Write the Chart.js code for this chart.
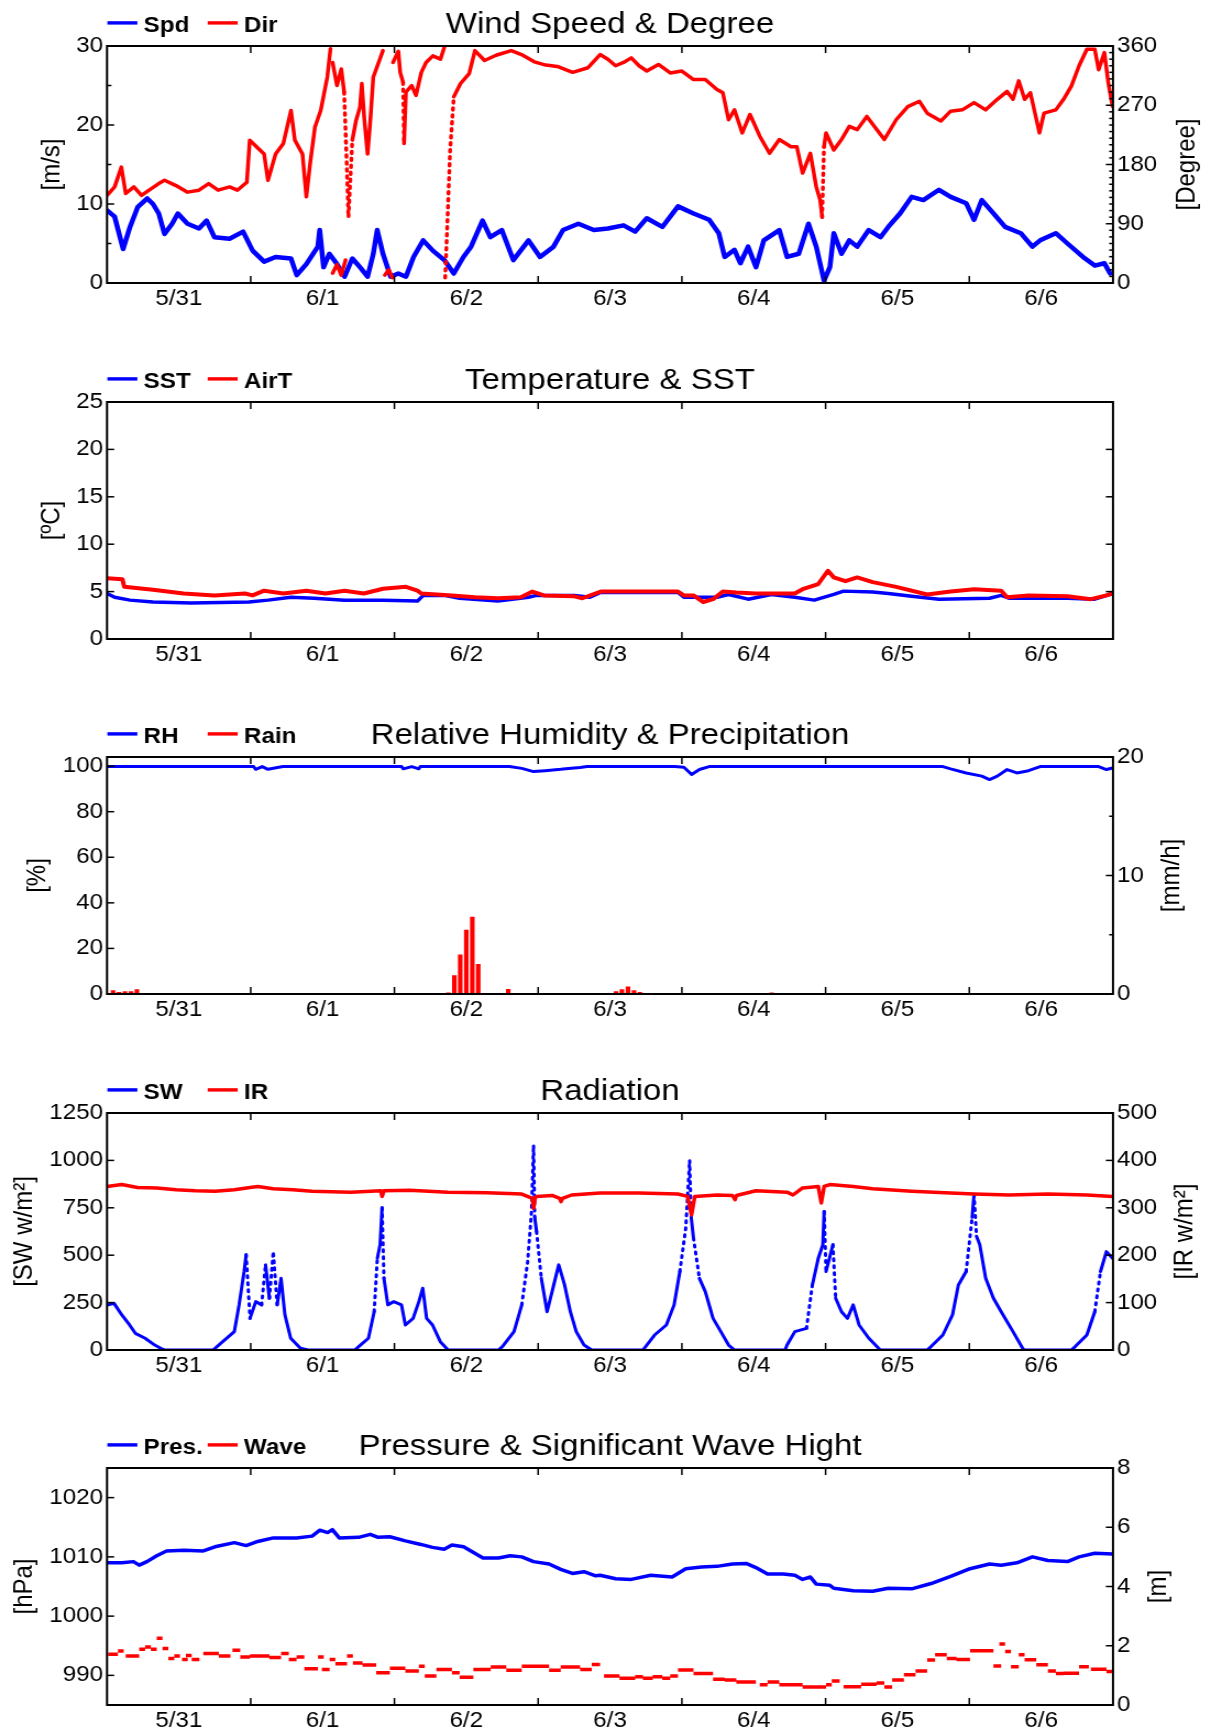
<!DOCTYPE html>
<html lang="en">
<head>
<meta charset="UTF-8">
<title>Buoy Observations 5/31 - 6/6</title>
<script src="https://cdn.jsdelivr.net/npm/chart.js"></script>
<style>
  body { margin: 0; background: #fff; width: 1211px; height: 1731px; position: relative; overflow: hidden; }
  .panel { position: absolute; left: 0; width: 1211px; }
  .panel canvas { display: block; width: 1211px; }
</style>
</head>
<body>
<div class="panel" style="top:0"><canvas id="wind" width="1101" height="356" style="height:356px"></canvas></div>
<div class="panel" style="top:356px"><canvas id="temp" width="1101" height="355" style="height:355px"></canvas></div>
<div class="panel" style="top:711px"><canvas id="humid" width="1101" height="356" style="height:356px"></canvas></div>
<div class="panel" style="top:1067px"><canvas id="rad" width="1101" height="355" style="height:355px"></canvas></div>
<div class="panel" style="top:1422px"><canvas id="pres" width="1101" height="309" style="height:309px"></canvas></div>

<script>
// x values are days counted from 5/31 00:00
const dayLabels = ['5/31', '6/1', '6/2', '6/3', '6/4', '6/5', '6/6'];
const dayTicks = [0, 1, 2, 3, 4, 5, 6];
const noonMarks = [0.5, 1.5, 2.5, 3.5, 4.5, 5.5];

// wind speed [m/s]
const spd = [[-0.5,9.2],[-0.447,8.4],[-0.388,4.3],[-0.34,7.1],[-0.287,9.6],[-0.22,10.7],[-0.18,10],[-0.14,8.8],[-0.1,6.2],[-0.047,7.5],[-0.007,8.8],[0.06,7.5],[0.14,6.9],[0.193,7.9],[0.247,5.8],[0.353,5.6],[0.447,6.5],[0.513,4.1],[0.593,2.7],[0.673,3.3],[0.78,3.1],[0.82,1.0],[0.887,2.4],[0.967,4.6],[0.98,6.7],[1.007,2.0],[1.047,3.7],[1.1,2.4],[1.153,0.8],[1.207,3.1],[1.26,2.0],[1.313,0.8],[1.353,3.7],[1.38,6.7],[1.42,3.7],[1.473,0.8],[1.527,1.2],[1.58,0.8],[1.633,3.3],[1.7,5.4],[1.767,4.1],[1.847,2.9],[1.913,1.2],[1.98,3.3],[2.033,4.6],[2.113,7.9],[2.167,5.8],[2.247,6.7],[2.327,2.9],[2.433,5.4],[2.513,3.3],[2.607,4.6],[2.673,6.7],[2.78,7.5],[2.887,6.7],[2.985,6.9],[3.094,7.3],[3.175,6.5],[3.256,8.2],[3.364,7.1],[3.473,9.7],[3.581,8.8],[3.69,8.0],[3.757,6.3],[3.798,3.3],[3.866,4.2],[3.907,2.5],[3.961,4.6],[4.016,2.0],[4.07,5.4],[4.178,6.7],[4.232,3.3],[4.313,3.7],[4.381,7.5],[4.435,4.6],[4.489,0.3],[4.53,2.0],[4.557,6.3],[4.611,3.7],[4.665,5.4],[4.72,4.6],[4.8,6.7],[4.882,5.8],[4.936,7.1],[5.018,8.8],[5.099,10.9],[5.18,10.5],[5.289,11.8],[5.37,10.9],[5.478,10.1],[5.533,8.0],[5.587,10.5],[5.668,8.8],[5.749,7.1],[5.858,6.3],[5.939,4.6],[5.993,5.4],[6.102,6.3],[6.183,5.0],[6.291,3.3],[6.373,2.2],[6.44,2.5],[6.48,1.2]];

// wind direction [deg], null where it wraps past north
const dir = [[-0.5,133],[-0.447,146],[-0.4,176],[-0.37,136],[-0.313,146],[-0.26,133],[-0.207,141],[-0.14,151],[-0.1,156],[-0.02,148],[0.06,138],[0.14,141],[0.207,151],[0.273,141],[0.353,146],[0.407,141],[0.473,153],[0.493,217],[0.54,207],[0.593,196],[0.62,156],[0.673,196],[0.727,212],[0.78,262],[0.807,217],[0.86,196],[0.887,131],[0.913,181],[0.947,237],[0.987,262],[1.033,313],[1.055,356],[1.055,null],
  [1.07,15],[1.10,28],[1.13,12],[1.16,35],[1.16,null],
  [1.07,335],[1.10,300],[1.13,325],[1.15,290],[1.165,200],[1.18,100],[1.207,217],[1.233,247],[1.26,267],[1.273,303],[1.29,250],[1.313,196],[1.33,240],[1.353,313],[1.39,335],[1.42,353],[1.42,null],
  [1.433,12],[1.46,20],[1.487,8],[1.487,null],
  [1.49,335],[1.527,352],[1.54,320],[1.56,305],[1.567,212],[1.58,290],[1.62,300],[1.65,285],[1.687,320],[1.72,335],[1.767,345],[1.82,340],[1.847,358],[1.847,null],
  [1.853,8],[1.87,100],[1.887,200],[1.913,283],[1.96,303],[2.02,318],[2.06,353],[2.127,338],[2.207,346],[2.313,353],[2.393,346],[2.473,336],[2.553,331],[2.633,329],[2.74,320],[2.847,327],[2.931,347],[2.985,340],[3.039,330],[3.094,335],[3.148,342],[3.202,330],[3.256,322],[3.337,332],[3.419,319],[3.5,322],[3.581,309],[3.663,309],[3.744,294],[3.785,289],[3.825,248],[3.866,263],[3.92,228],[3.974,256],[4.042,223],[4.11,197],[4.178,218],[4.259,207],[4.3,207],[4.34,167],[4.394,197],[4.435,146],[4.462,126],[4.476,100],[4.489,207],[4.503,228],[4.557,202],[4.611,218],[4.665,238],[4.72,233],[4.787,253],[4.828,241],[4.909,218],[4.991,248],[5.072,268],[5.153,276],[5.207,258],[5.302,246],[5.37,261],[5.451,263],[5.533,274],[5.614,263],[5.695,279],[5.763,291],[5.804,279],[5.844,307],[5.885,279],[5.925,289],[5.988,228],[6.02,258],[6.102,263],[6.156,279],[6.21,299],[6.264,330],[6.318,355],[6.373,355],[6.4,324],[6.44,350],[6.467,304],[6.497,268]];

// sea surface and air temperature [degC]
const sst = [[-0.5,4.8],[-0.447,4.4],[-0.34,4.1],[-0.18,3.9],[0.087,3.8],[0.487,3.9],[0.62,4.1],[0.78,4.4],[0.94,4.3],[1.153,4.1],[1.42,4.1],[1.66,4.0],[1.7,4.6],[1.847,4.6],[1.953,4.3],[2.22,4.0],[2.433,4.4],[2.487,4.6],[2.753,4.6],[2.86,4.4],[2.935,4.9],[3.473,4.9],[3.514,4.4],[3.744,4.4],[3.825,4.7],[3.961,4.2],[4.123,4.7],[4.286,4.4],[4.421,4.1],[4.557,4.7],[4.625,5.05],[4.828,4.95],[4.936,4.8],[5.099,4.5],[5.289,4.2],[5.641,4.3],[5.722,4.6],[5.776,4.3],[6.183,4.3],[6.373,4.2],[6.497,4.8]];
const airT = [[-0.5,6.4],[-0.393,6.3],[-0.38,5.5],[-0.18,5.2],[0.033,4.8],[0.247,4.6],[0.46,4.8],[0.513,4.6],[0.593,5.1],[0.727,4.8],[0.887,5.1],[1.02,4.8],[1.153,5.1],[1.287,4.8],[1.42,5.3],[1.58,5.5],[1.66,5.1],[1.687,4.8],[1.9,4.6],[2.06,4.4],[2.22,4.3],[2.38,4.4],[2.46,5.0],[2.54,4.6],[2.753,4.5],[2.807,4.3],[2.935,5.0],[3.473,5.0],[3.514,4.6],[3.581,4.6],[3.649,3.9],[3.717,4.2],[3.785,5.0],[3.879,4.9],[4.015,4.8],[4.286,4.8],[4.34,5.25],[4.449,5.8],[4.516,7.2],[4.557,6.5],[4.638,6.1],[4.72,6.5],[4.828,6.0],[4.991,5.5],[5.207,4.7],[5.37,5.0],[5.533,5.25],[5.722,5.1],[5.763,4.4],[5.912,4.6],[6.183,4.5],[6.346,4.2],[6.454,4.6],[6.497,4.8]];

// relative humidity [%] and hourly rain [mm/h]
const rh = [[-0.5,99.8],[0.52,99.8],[0.535,98.6],[0.58,99.8],[0.62,98.6],[0.724,99.8],[1.55,99.8],[1.562,98.8],[1.62,99.8],[1.67,98.8],[1.68,99.8],[2.3,99.8],[2.386,99],[2.468,97.6],[2.549,98],[2.657,98.6],[2.711,99],[2.792,99.4],[2.84,99.8],[3.45,99.8],[3.514,99.5],[3.568,96.3],[3.622,98.5],[3.69,99.8],[5.316,99.8],[5.37,98.8],[5.478,97],[5.587,95.6],[5.641,94.1],[5.695,95.6],[5.763,98.5],[5.831,97],[5.912,98],[5.993,99.8],[6.4,99.8],[6.454,98.5],[6.497,99.2]];
const rain = [[-0.458,0.28],[-0.417,0.14],[-0.375,0.2],[-0.333,0.2],[-0.292,0.37],[1.875,0.1],[1.917,1.56],[1.958,3.3],[2.0,5.4],[2.042,6.5],[2.083,2.5],[2.292,0.4],[3.042,0.2],[3.083,0.37],[3.125,0.6],[3.167,0.28],[3.208,0.14],[4.125,0.1]];

// short-wave and infrared radiation [W/m2]
const sw = [[-0.492,238],[-0.451,246],[-0.397,185],[-0.343,132],[-0.303,88],[-0.235,62],[-0.168,26],[-0.114,4],[-0.1,0],[0.238,0],[0.305,44],[0.386,97],[0.419,238],[0.454,414],[0.468,502],[0.495,167],[0.535,255],[0.576,238],[0.603,449],[0.63,273],[0.657,519],[0.684,238],[0.711,378],[0.738,185],[0.778,62],[0.846,9],[0.9,0],[1.224,0],[1.251,18],[1.319,62],[1.359,202],[1.381,484],[1.4,555],[1.414,750],[1.427,378],[1.454,238],[1.495,255],[1.549,238],[1.576,132],[1.63,167],[1.67,255],[1.697,326],[1.724,167],[1.765,132],[1.819,44],[1.873,0],[2.224,0],[2.251,18],[2.332,97],[2.386,238],[2.427,466],[2.454,731],[2.468,1080],[2.476,700],[2.489,625],[2.522,378],[2.562,202],[2.603,326],[2.643,449],[2.684,343],[2.724,202],[2.765,97],[2.819,26],[2.873,0],[3.229,0],[3.31,79],[3.392,132],[3.446,238],[3.486,414],[3.527,643],[3.554,1000],[3.565,700],[3.581,590],[3.622,378],[3.663,308],[3.717,167],[3.771,97],[3.825,26],[3.866,0],[4.218,0],[4.232,26],[4.286,97],[4.367,114],[4.408,343],[4.449,484],[4.481,555],[4.49,730],[4.503,414],[4.551,555],[4.57,273],[4.611,202],[4.652,167],[4.692,238],[4.733,132],[4.801,62],[4.869,9],[4.882,0],[5.207,0],[5.234,18],[5.316,79],[5.383,185],[5.424,343],[5.478,414],[5.52,700],[5.533,820],[5.55,600],[5.573,555],[5.614,378],[5.668,273],[5.722,202],[5.804,97],[5.871,9],[5.885,0],[6.21,0],[6.237,18],[6.318,79],[6.373,202],[6.413,414],[6.454,519],[6.497,484]];
const ir = [[-0.5,345],[-0.397,349],[-0.289,343],[-0.154,342],[-0.019,338],[0.116,336],[0.251,335],[0.386,338],[0.495,343],[0.549,345],[0.657,340],[0.792,338],[0.927,335],[1.197,333],[1.405,336],[1.414,324],[1.427,336],[1.603,337],[1.873,333],[2.143,332],[2.386,329],[2.46,320],[2.468,299],[2.48,322],[2.489,324],[2.597,326],[2.65,320],[2.659,313],[2.67,320],[2.732,327],[2.931,331],[3.202,331],[3.473,329],[3.54,324],[3.567,285],[3.59,324],[3.744,327],[3.852,326],[3.87,317],[3.88,326],[4.015,336],[4.232,333],[4.273,327],[4.34,342],[4.449,345],[4.47,310],[4.49,345],[4.53,349],[4.692,345],[4.828,340],[5.099,335],[5.37,331],[5.533,329],[5.777,327],[6.048,329],[6.319,327],[6.497,324]];

// sea level pressure [hPa]
const pres = [[-0.492,1009.0],[-0.397,1009.0],[-0.316,1009.2],[-0.276,1008.6],[-0.222,1009.2],[-0.154,1010.2],[-0.086,1011.0],[0.035,1011.1],[0.17,1011.0],[0.251,1011.7],[0.386,1012.4],[0.468,1011.9],[0.549,1012.6],[0.657,1013.2],[0.819,1013.2],[0.927,1013.5],[0.981,1014.5],[1.035,1014.1],[1.068,1014.6],[1.116,1013.2],[1.251,1013.3],[1.332,1013.8],[1.386,1013.3],[1.468,1013.4],[1.576,1012.7],[1.684,1012.1],[1.765,1011.6],[1.846,1011.3],[1.9,1012.0],[1.981,1011.7],[2.116,1009.8],[2.224,1009.8],[2.305,1010.2],[2.386,1010.0],[2.468,1009.2],[2.576,1008.8],[2.657,1007.9],[2.738,1007.2],[2.819,1007.5],[2.9,1006.8],[2.931,1006.9],[3.039,1006.3],[3.148,1006.2],[3.283,1006.9],[3.432,1006.6],[3.527,1008.0],[3.636,1008.3],[3.744,1008.4],[3.852,1008.8],[3.947,1008.9],[4.015,1008.2],[4.096,1007.1],[4.205,1007.1],[4.286,1006.9],[4.34,1006.2],[4.394,1006.6],[4.435,1005.4],[4.53,1005.2],[4.557,1004.7],[4.692,1004.3],[4.828,1004.2],[4.936,1004.7],[5.099,1004.6],[5.234,1005.5],[5.37,1006.7],[5.505,1008.0],[5.641,1008.8],[5.722,1008.6],[5.831,1009.0],[5.939,1010.0],[6.047,1009.4],[6.183,1009.2],[6.264,1010.0],[6.373,1010.6],[6.497,1010.5]];

// significant wave height [m], held constant between updates: [from, to, height]
const wave = [[-0.492,-0.424,1.71],[-0.424,-0.384,1.82],[-0.37,-0.276,1.65],[-0.276,-0.235,1.88],[-0.235,-0.195,1.96],[-0.195,-0.154,1.88],[-0.154,-0.114,2.25],[-0.114,-0.073,1.91],[-0.073,-0.032,1.57],[-0.032,0.008,1.65],[0.022,0.062,1.54],[0.049,0.089,1.67],[0.089,0.143,1.54],[0.17,0.278,1.74],[0.278,0.359,1.65],[0.373,0.427,1.85],[0.427,0.495,1.62],[0.495,0.63,1.65],[0.63,0.711,1.6],[0.711,0.765,1.74],[0.765,0.819,1.54],[0.819,0.873,1.62],[0.873,0.968,1.22],[0.968,1.008,1.62],[0.995,1.049,1.2],[1.049,1.089,1.54],[1.089,1.17,1.39],[1.17,1.211,1.65],[1.211,1.278,1.42],[1.278,1.373,1.35],[1.373,1.468,1.09],[1.468,1.576,1.24],[1.576,1.67,1.15],[1.67,1.711,1.31],[1.711,1.792,0.98],[1.792,1.9,1.2],[1.9,1.954,1.09],[1.954,2.049,0.94],[2.049,2.17,1.2],[2.17,2.278,1.28],[2.278,2.386,1.17],[2.386,2.468,1.31],[2.468,2.576,1.31],[2.576,2.657,1.17],[2.657,2.792,1.28],[2.792,2.873,1.2],[2.873,2.931,1.37],[2.958,3.066,0.98],[3.066,3.175,0.9],[3.175,3.229,0.95],[3.229,3.297,0.9],[3.297,3.364,0.95],[3.364,3.419,0.9],[3.419,3.473,0.98],[3.473,3.581,1.18],[3.581,3.717,1.06],[3.717,3.798,0.87],[3.798,3.879,0.84],[3.879,4.015,0.78],[4.042,4.096,0.68],[4.096,4.178,0.78],[4.178,4.34,0.68],[4.34,4.503,0.61],[4.503,4.543,0.68],[4.543,4.598,0.81],[4.625,4.747,0.62],[4.747,4.855,0.7],[4.855,4.909,0.74],[4.909,4.963,0.61],[4.963,5.045,0.84],[5.045,5.126,1.02],[5.126,5.207,1.15],[5.207,5.262,1.52],[5.262,5.343,1.7],[5.343,5.411,1.57],[5.411,5.505,1.54],[5.505,5.668,1.83],[5.668,5.722,1.32],[5.709,5.749,2.06],[5.749,5.79,1.81],[5.79,5.844,1.29],[5.844,5.885,1.7],[5.885,5.966,1.53],[5.966,6.047,1.36],[6.047,6.102,1.15],[6.102,6.156,1.06],[6.156,6.264,1.07],[6.264,6.332,1.29],[6.346,6.454,1.21],[6.454,6.497,1.13]];

// ---------------------------------------------------------------
// the canvases are drawn 1101 wide and stretched to 1211 by css
const S = 1211 / 1101;
const PLOT_BOTTOM = 283;
const LEFT_W = 107 / S;
const RIGHT_W = (1211 - 1113) / S;
const FONT = '"Liberation Sans", Arial, Helvetica, sans-serif';
const BLUE = '#0000ff', RED = '#ff0000';
const LEGEND_X = [97.6, 188.8];

Chart.defaults.font.family = FONT;
Chart.defaults.color = '#000';

const toXY = arr => arr.map(([x, y]) => ({ x, y }));
const runs = arr => arr.flatMap(([a, b, y]) => [{ x: a, y }, { x: b, y }, { x: b, y: null }]);
const jumpDots = limit => ({
  borderDash: c => Math.abs(c.p1.parsed.y - c.p0.parsed.y) > limit ? [2, 5] : undefined
});

function yAxis(position, a) {
  return {
    type: 'linear', position, min: a.min, max: a.max,
    afterBuildTicks: s => { s.ticks = a.ticks.map(v => ({ value: v })); },
    afterFit: s => { s.width = position === 'left' ? LEFT_W : RIGHT_W; },
    ticks: { padding: 3.5, font: { size: 22 }, callback: v => String(v) },
    grid: { display: false, drawTicks: false },
    border: { display: false }
  };
}

// frame, inward tick marks, title, legend and axis titles
function deco(o) {
  return {
    id: 'deco',
    afterDraw(chart) {
      const { ctx, chartArea: a, scales } = chart;
      const seg = (x1, y1, x2, y2) => { ctx.beginPath(); ctx.moveTo(x1, y1); ctx.lineTo(x2, y2); ctx.stroke(); };
      const marks = (scale, values, len, side) => values.forEach(v => {
        const py = scale.getPixelForValue(v);
        if (side === 'left') seg(a.left, py, a.left + len, py);
        else seg(a.right, py, a.right - len, py);
      });
      ctx.save();
      ctx.strokeStyle = '#000';
      ctx.lineWidth = 1.5;
      noonMarks.forEach(v => {
        const px = scales.x.getPixelForValue(v);
        seg(px, a.bottom, px, a.bottom - 7);
        seg(px, a.top, px, a.top + 7);
      });
      marks(scales.y, o.left.ticks, 6.5, 'left');
      if (o.left.minor) marks(scales.y, o.left.minor, 4, 'left');
      if (o.right) {
        marks(scales.y2, o.right.ticks, 6.5, 'right');
        if (o.right.minor) marks(scales.y2, o.right.minor, 3.5, 'right');
      } else {
        marks(scales.y, o.left.ticks, 6.5, 'right');
      }
      ctx.lineWidth = 2;
      ctx.strokeRect(a.left, a.top, a.right - a.left, a.bottom - a.top);

      ctx.fillStyle = '#000';
      ctx.textBaseline = 'alphabetic';
      ctx.textAlign = 'center';
      ctx.font = '30px ' + FONT;
      ctx.fillText(o.title, (a.left + a.right) / 2, 33);

      ctx.textAlign = 'left';
      ctx.font = 'bold 22px ' + FONT;
      o.legend.forEach((item, i) => {
        ctx.fillStyle = item.color;
        ctx.fillRect(LEGEND_X[i], 21.2, 27.3, 3.4);
        ctx.fillStyle = '#000';
        ctx.fillText(item.text, LEGEND_X[i] + 33, 31.5);
      });

      ctx.font = '24px ' + FONT;
      ctx.textAlign = 'center';
      ctx.textBaseline = 'middle';
      const midY = (a.top + a.bottom) / 2;
      const vText = (text, x) => {
        ctx.save();
        ctx.translate(x, midY);
        ctx.rotate(-Math.PI / 2);
        ctx.fillText(text, 0, 0);
        ctx.restore();
      };
      vText(o.left.title, o.left.titleX);
      if (o.right) vText(o.right.title, o.right.titleX);
      ctx.restore();
    }
  };
}

function makePanel(id, o) {
  const scales = {
    x: {
      type: 'linear', min: -0.5, max: 6.5, offset: false,
      afterBuildTicks: s => { s.ticks = dayTicks.map(v => ({ value: v })); },
      afterFit: s => { s.height = s.chart.height - PLOT_BOTTOM; },
      ticks: { padding: 3, maxRotation: 0, autoSkip: false, font: { size: 22 }, callback: v => dayLabels[v] },
      grid: { display: false, drawTicks: false },
      border: { display: false }
    },
    y: yAxis('left', o.left)
  };
  if (o.right) scales.y2 = yAxis('right', o.right);

  new Chart(document.getElementById(id), {
    type: 'line',
    data: { datasets: o.datasets },
    options: {
      responsive: false,
      animation: false,
      events: [],
      layout: { padding: { top: 46, left: 0, bottom: 0, right: o.right ? 0 : RIGHT_W } },
      elements: {
        point: { radius: 0 },
        line: { tension: 0, borderJoinStyle: 'round', borderCapStyle: 'round' }
      },
      plugins: { legend: { display: false }, tooltip: { enabled: false }, title: { display: false } },
      scales
    },
    plugins: [deco(o)]
  });
}

makePanel('wind', {
  title: 'Wind Speed & Degree',
  legend: [{ text: 'Spd', color: BLUE }, { text: 'Dir', color: RED }],
  left: { min: 0, max: 30, ticks: [0, 10, 20, 30], minor: [5, 15, 25], title: '[m/s]', titleX: 47 },
  right: { min: 0, max: 360, ticks: [0, 90, 180, 270, 360],
    minor: [10,20,30,40,50,60,70,80,100,110,120,130,140,150,160,170,190,200,210,220,230,240,250,260,280,290,300,310,320,330,340,350],
    title: '[Degree]', titleX: 1078.9 },
  datasets: [
    { data: toXY(dir), yAxisID: 'y2', borderColor: RED, borderWidth: 3.5, segment: jumpDots(80) },
    { data: toXY(spd), yAxisID: 'y', borderColor: BLUE, borderWidth: 4.5 }
  ]
});

makePanel('temp', {
  title: 'Temperature & SST',
  legend: [{ text: 'SST', color: BLUE }, { text: 'AirT', color: RED }],
  left: { min: 0, max: 25, ticks: [0, 5, 10, 15, 20, 25], title: '[ºC]', titleX: 47.8 },
  datasets: [
    { data: toXY(airT), yAxisID: 'y', borderColor: RED, borderWidth: 4 },
    { data: toXY(sst), yAxisID: 'y', borderColor: BLUE, borderWidth: 3.5 }
  ]
});

makePanel('humid', {
  title: 'Relative Humidity & Precipitation',
  legend: [{ text: 'RH', color: BLUE }, { text: 'Rain', color: RED }],
  left: { min: 0, max: 104, ticks: [0, 20, 40, 60, 80, 100], title: '[%]', titleX: 34.4 },
  right: { min: 0, max: 20, ticks: [0, 10, 20], minor: [5, 15], title: '[mm/h]', titleX: 1065.6 },
  datasets: [
    { data: toXY(rh), yAxisID: 'y', borderColor: BLUE, borderWidth: 3 },
    { type: 'bar', data: toXY(rain), yAxisID: 'y2', backgroundColor: RED, borderWidth: 0, barThickness: 3.5 }
  ]
});

makePanel('rad', {
  title: 'Radiation',
  legend: [{ text: 'SW', color: BLUE }, { text: 'IR', color: RED }],
  left: { min: 0, max: 1250, ticks: [0, 250, 500, 750, 1000, 1250], title: '[SW w/m²]', titleX: 22 },
  right: { min: 0, max: 500, ticks: [0, 100, 200, 300, 400, 500], title: '[IR w/m²]', titleX: 1077 },
  datasets: [
    { data: toXY(ir), yAxisID: 'y2', borderColor: RED, borderWidth: 3.5 },
    { data: toXY(sw), yAxisID: 'y', borderColor: BLUE, borderWidth: 3, segment: jumpDots(200) }
  ]
});

makePanel('pres', {
  title: 'Pressure & Significant Wave Hight',
  legend: [{ text: 'Pres.', color: BLUE }, { text: 'Wave', color: RED }],
  left: { min: 985, max: 1025, ticks: [990, 1000, 1010, 1020], title: '[hPa]', titleX: 22 },
  right: { min: 0, max: 8, ticks: [0, 2, 4, 6, 8], title: '[m]', titleX: 1053.7 },
  datasets: [
    { data: toXY(pres), yAxisID: 'y', borderColor: BLUE, borderWidth: 3.5 },
    { data: runs(wave), yAxisID: 'y2', borderColor: RED, borderWidth: 3.5, borderCapStyle: 'butt' }
  ]
});
</script>
</body>
</html>
